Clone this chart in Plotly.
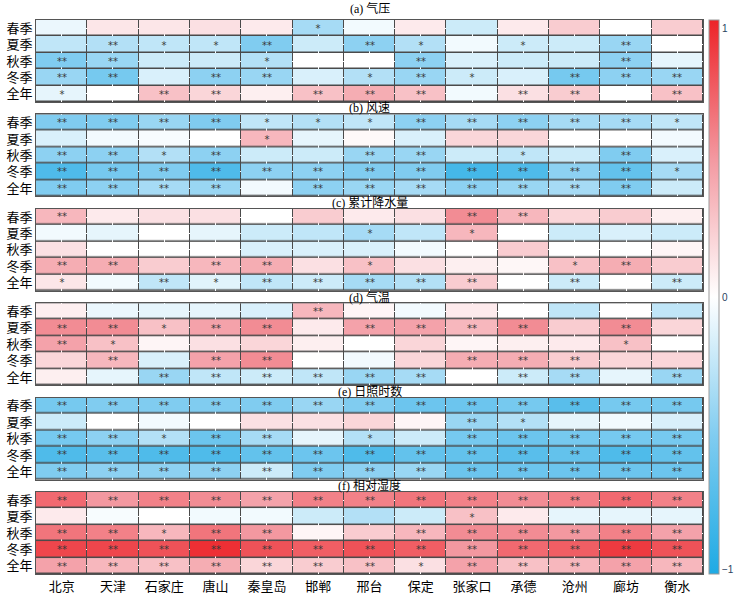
import plotly.graph_objects as go
from plotly.subplots import make_subplots

cities = ["北京", "天津", "石家庄", "唐山", "秦皇岛", "邯郸", "邢台", "保定", "张家口", "承德", "沧州", "廊坊", "衡水"]
seasons = ["春季", "夏季", "秋季", "冬季", "全年"]
titles = ["(a) 气压", "(b) 风速", "(c) 累计降水量", "(d) 气温", "(e) 日照时数", "(f) 相对湿度"]

# (a) 气压
pressure = [
    [-0.08, 0.12, 0.12, 0.15, 0.10, -0.35, -0.05, 0.10, -0.20, 0.10, 0.25, 0.00, 0.25],
    [-0.25, -0.30, -0.25, -0.25, -0.50, -0.20, -0.45, -0.30, -0.05, -0.20, -0.20, -0.40, 0.00],
    [-0.50, -0.40, -0.20, -0.20, -0.30, 0.00, 0.00, -0.45, -0.15, -0.20, -0.20, -0.45, -0.10],
    [-0.40, -0.55, -0.15, -0.45, -0.40, -0.15, -0.30, -0.40, -0.20, -0.15, -0.55, -0.45, -0.40],
    [-0.10, 0.00, 0.30, 0.20, 0.08, 0.30, 0.40, 0.30, -0.05, 0.15, 0.25, 0.00, 0.30],
]
pressure_sig = [
    ["", "", "", "", "", "*", "", "", "", "", "", "", ""],
    ["", "**", "*", "*", "**", "", "**", "*", "", "*", "", "**", ""],
    ["**", "**", "", "", "*", "", "", "**", "", "", "", "**", ""],
    ["**", "**", "", "**", "**", "", "*", "**", "*", "", "**", "**", "**"],
    ["*", "", "**", "**", "", "**", "**", "**", "", "**", "**", "", "**"],
]

# (b) 风速
wind = [
    [-0.50, -0.50, -0.40, -0.50, -0.25, -0.30, -0.25, -0.45, -0.35, -0.45, -0.35, -0.35, -0.25],
    [-0.15, -0.05, -0.03, 0.00, 0.35, -0.10, 0.03, -0.15, 0.20, 0.20, 0.00, 0.00, -0.05],
    [-0.45, -0.45, -0.30, -0.45, -0.20, -0.20, -0.40, -0.40, -0.20, -0.25, -0.20, -0.50, -0.15],
    [-0.75, -0.55, -0.50, -0.75, -0.45, -0.45, -0.50, -0.50, -0.80, -0.75, -0.45, -0.65, -0.35],
    [-0.50, -0.45, -0.35, -0.40, -0.05, -0.45, -0.40, -0.35, -0.45, -0.40, -0.35, -0.50, -0.20],
]
wind_sig = [
    ["**", "**", "**", "**", "*", "*", "*", "**", "**", "**", "**", "**", "*"],
    ["", "", "", "", "*", "", "", "", "", "", "", "", ""],
    ["**", "**", "*", "**", "", "", "**", "**", "", "*", "", "**", ""],
    ["**", "**", "**", "**", "**", "**", "**", "**", "**", "**", "**", "**", "*"],
    ["**", "**", "**", "**", "", "**", "**", "**", "**", "**", "**", "**", ""],
]

# (c) 累计降水量
precip = [
    [0.35, 0.10, 0.15, 0.15, 0.00, 0.25, 0.10, 0.15, 0.55, 0.35, 0.20, 0.25, 0.08],
    [-0.05, -0.10, 0.00, -0.10, -0.20, -0.25, -0.35, -0.25, 0.35, 0.00, -0.20, -0.15, -0.20],
    [0.15, 0.00, 0.00, 0.00, -0.15, -0.15, -0.15, -0.05, 0.00, 0.25, 0.00, 0.00, 0.05],
    [0.40, 0.40, 0.25, 0.35, 0.40, 0.15, 0.30, 0.15, 0.08, 0.04, 0.30, 0.40, 0.25],
    [0.12, -0.05, -0.25, -0.12, -0.25, -0.20, -0.35, -0.30, 0.25, 0.00, -0.20, 0.00, -0.20],
]
precip_sig = [
    ["**", "", "", "", "", "", "", "", "**", "**", "", "", ""],
    ["", "", "", "", "", "", "*", "", "*", "", "", "", ""],
    ["", "", "", "", "", "", "", "", "", "", "", "", ""],
    ["**", "**", "", "**", "**", "", "*", "", "", "", "*", "**", ""],
    ["*", "", "**", "*", "**", "**", "**", "**", "**", "", "**", "", "**"],
]

# (d) 气温
temp = [
    [0.08, -0.08, -0.10, -0.10, -0.15, 0.35, 0.05, -0.05, 0.10, 0.00, -0.25, 0.00, -0.25],
    [0.55, 0.55, 0.30, 0.45, 0.55, 0.10, 0.45, 0.45, 0.35, 0.55, 0.25, 0.55, 0.20],
    [0.45, 0.30, 0.05, 0.15, 0.20, 0.08, 0.00, 0.20, 0.05, 0.08, 0.10, 0.30, 0.00],
    [0.20, 0.35, -0.15, 0.45, 0.55, 0.00, -0.05, 0.20, 0.40, 0.40, 0.25, 0.20, 0.20],
    [0.08, -0.10, -0.40, -0.25, -0.20, -0.25, -0.40, -0.35, 0.00, -0.20, -0.35, -0.10, -0.40],
]
temp_sig = [
    ["", "", "", "", "", "**", "", "", "", "", "", "", ""],
    ["**", "**", "*", "**", "**", "", "**", "**", "**", "**", "", "**", ""],
    ["**", "*", "", "", "", "", "", "", "", "", "", "*", ""],
    ["", "**", "", "**", "**", "", "", "", "**", "**", "**", "", ""],
    ["", "", "**", "**", "**", "**", "**", "**", "", "**", "**", "", "**"],
]

# (e) 日照时数
sunshine = [
    [-0.55, -0.50, -0.50, -0.50, -0.50, -0.40, -0.50, -0.60, -0.60, -0.55, -0.70, -0.55, -0.55],
    [-0.20, 0.00, -0.05, 0.00, 0.15, 0.15, 0.20, 0.05, -0.40, -0.30, -0.10, -0.05, -0.15],
    [-0.55, -0.45, -0.30, -0.60, -0.35, -0.10, -0.30, -0.20, -0.55, -0.60, -0.55, -0.55, -0.55],
    [-0.75, -0.70, -0.75, -0.75, -0.65, -0.60, -0.75, -0.65, -0.65, -0.70, -0.65, -0.75, -0.65],
    [-0.50, -0.45, -0.45, -0.45, -0.20, -0.50, -0.45, -0.40, -0.60, -0.60, -0.60, -0.60, -0.60],
]
sunshine_sig = [
    ["**"] * 13,
    ["", "", "", "", "", "", "", "", "**", "*", "", "", ""],
    ["**", "**", "*", "**", "**", "", "*", "", "**", "**", "**", "**", "**"],
    ["**"] * 13,
    ["**"] * 13,
]

# (f) 相对湿度
humidity = [
    [0.70, 0.50, 0.60, 0.55, 0.45, 0.60, 0.60, 0.65, 0.60, 0.55, 0.60, 0.70, 0.60],
    [0.10, -0.03, 0.00, -0.05, -0.05, -0.20, -0.30, -0.20, 0.30, 0.10, -0.10, -0.10, -0.10],
    [0.65, 0.60, 0.35, 0.65, 0.50, 0.05, 0.25, 0.35, 0.55, 0.55, 0.50, 0.60, 0.45],
    [0.85, 0.85, 0.80, 0.95, 0.80, 0.75, 0.80, 0.75, 0.50, 0.70, 0.75, 0.90, 0.80],
    [0.45, 0.35, 0.30, 0.40, 0.20, 0.25, 0.30, 0.15, 0.45, 0.30, 0.35, 0.45, 0.35],
]
humidity_sig = [
    ["**"] * 13,
    ["", "", "", "", "", "", "", "", "*", "", "", "", ""],
    ["**", "**", "*", "**", "**", "", "", "**", "**", "**", "**", "**", "**"],
    ["**"] * 13,
    ["**", "**", "**", "**", "**", "**", "**", "*", "**", "**", "**", "**", "**"],
]

panels = [
    (pressure, pressure_sig),
    (wind, wind_sig),
    (precip, precip_sig),
    (temp, temp_sig),
    (sunshine, sunshine_sig),
    (humidity, humidity_sig),
]

colorscale = [
    [0.0, "rgb(30,170,228)"],
    [0.25, "rgb(128,204,240)"],
    [0.5, "rgb(255,255,255)"],
    [0.75, "rgb(243,152,160)"],
    [1.0, "rgb(237,35,40)"],
]

FONT = "Liberation Serif, Noto Sans CJK SC, serif"
SPACING = 0.0224

fig = make_subplots(rows=6, cols=1, shared_xaxes=True, vertical_spacing=SPACING)

for i, (z, sig) in enumerate(panels):
    fig.add_trace(
        go.Heatmap(
            z=z, x=cities, y=seasons, text=sig, texttemplate="%{text}",
            textfont=dict(size=10, color="#3a3a3a", family="DejaVu Sans"),
            colorscale=colorscale, zmin=-1, zmax=1,
            xgap=1, ygap=1.5,
            showscale=(i == 0),
            colorbar=dict(
                x=1.0, xanchor="left", xpad=6, thickness=10, len=1.0, y=0.5, yanchor="middle",
                ypad=0,
                outlinecolor="#999999", outlinewidth=1,
                tickvals=[-0.985, 0, 0.97], ticktext=["−1", "0", "1"],
                tickfont=dict(size=10, family="Arial"), ticks="",
            ),
        ),
        row=i + 1, col=1,
    )
    fig.update_yaxes(autorange="reversed", showline=True, mirror=True, linecolor="#555555",
                     linewidth=1, ticks="", automargin=False,
                     tickfont=dict(size=13, family=FONT, color="black"),
                     row=i + 1, col=1)
    fig.update_xaxes(showline=True, mirror=True, linecolor="#555555", linewidth=1, ticks="",
                     automargin=False,
                     tickfont=dict(size=13, family=FONT, color="black"), row=i + 1, col=1)

fig.update_layout(
    width=750, height=599,
    margin=dict(l=36, r=40, t=20, b=25),
    plot_bgcolor="#4a4a4a",
    paper_bgcolor="white",
    font=dict(family=FONT),
)

for i, t in enumerate(titles):
    ax = fig.layout["yaxis" if i == 0 else f"yaxis{i+1}"]
    top = ax.domain[1]
    ypos = top + (0.02 if i == 0 else SPACING / 2)
    fig.add_annotation(text=t, x=0.5, xref="paper", y=ypos, yref="paper",
                       xanchor="center", yanchor="middle", showarrow=False,
                       font=dict(size=12, family=FONT, color="black"))

fig.write_html("out.html", config={"displayModeBar": False},
               post_script="document.body.style.margin='0';document.body.style.overflow='hidden';")
